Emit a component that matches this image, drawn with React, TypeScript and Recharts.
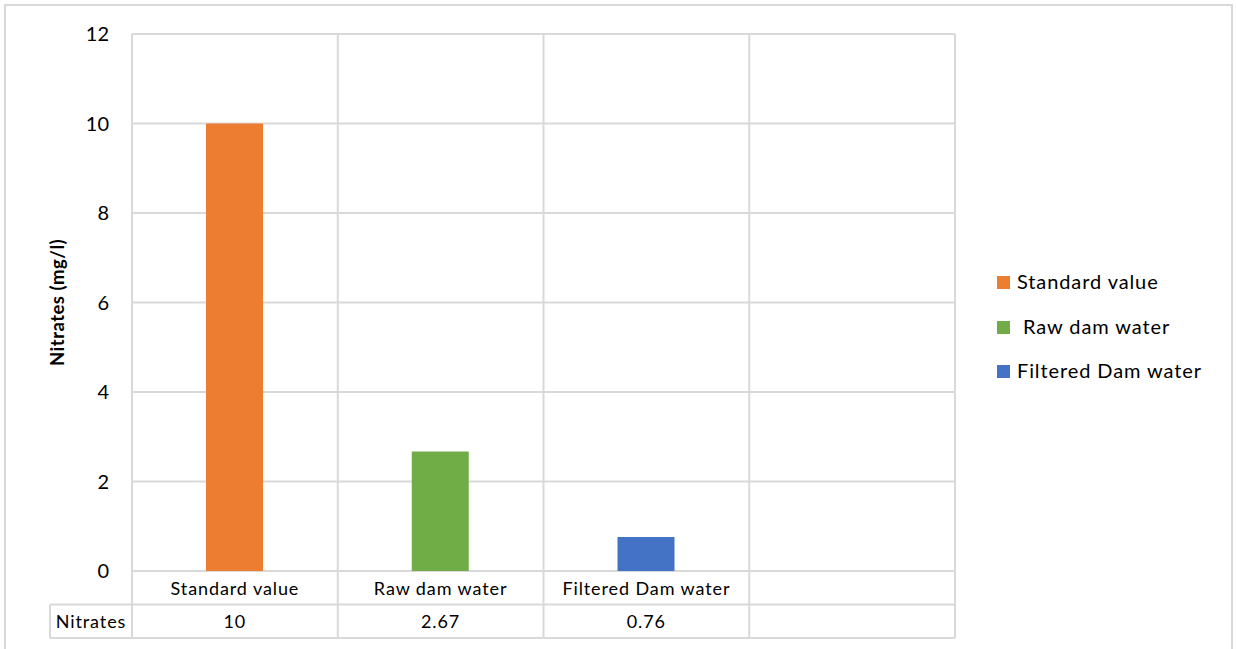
import React from "react";
import {
  BarChart,
  Bar,
  Cell,
  XAxis,
  YAxis,
  CartesianGrid,
  Label,
} from "recharts";

const categories = ["Standard value", "Raw dam water", "Filtered Dam water", ""];
const nitrates: (number | null)[] = [10, 2.67, 0.76, null];
const seriesName = "Nitrates";
const yTicks = [0, 2, 4, 6, 8, 10, 12];
const legendNames = ["Standard value", " Raw dam water", "Filtered Dam water"];

const COLORS = ["#ED7D31", "#70AD47", "#4472C4"];
const GRID = "#d9d9d9";
const FONT = "Lato, 'Open Sans', sans-serif";

const W = 1236;
const H = 649;
const PLOT_LEFT = 132;
const PLOT_RIGHT = 955;
const PLOT_TOP = 34;
const PLOT_BOTTOM = 571;
const ROW_H = 33.5;
const HEADER_LEFT = 50;

const data = categories.map((name, i) => ({ name, value: nitrates[i] }));
const band = (PLOT_RIGHT - PLOT_LEFT) / categories.length;

const cellText = {
  textAnchor: "middle" as const,
  dominantBaseline: "central" as const,
  fontSize: 18,
  letterSpacing: 0.9,
  fill: "#000",
  fontFamily: FONT,
};

// draws the data table under the plot: category row, value row and cell borders
const TableTick = (props: any) => {
  const { x, y, payload, index } = props;
  const left = x - band / 2;
  const right = x + band / 2;
  const row1 = y + ROW_H;
  const row2 = y + ROW_H * 2;
  const value = nitrates[index];
  return (
    <g>
      {index === 0 && (
        <g>
          <line x1={left} x2={left} y1={PLOT_TOP} y2={row2} stroke={GRID} strokeWidth={2} />
          <line x1={HEADER_LEFT} x2={left} y1={row1} y2={row1} stroke={GRID} strokeWidth={2} />
          <line x1={HEADER_LEFT} x2={left} y1={row2} y2={row2} stroke={GRID} strokeWidth={2} />
          <line x1={HEADER_LEFT} x2={HEADER_LEFT} y1={row1} y2={row2} stroke={GRID} strokeWidth={2} />
          <text x={(HEADER_LEFT + left) / 2} y={row1 + ROW_H / 2} {...cellText}>
            {seriesName}
          </text>
        </g>
      )}
      <line x1={right} x2={right} y1={PLOT_TOP} y2={row2} stroke={GRID} strokeWidth={2} />
      <line x1={left} x2={right} y1={row1} y2={row1} stroke={GRID} strokeWidth={2} />
      <line x1={left} x2={right} y1={row2} y2={row2} stroke={GRID} strokeWidth={2} />
      <text x={x} y={y + ROW_H / 2} {...cellText}>
        {payload.value}
      </text>
      {value !== null && (
        <text x={x} y={row1 + ROW_H / 2} {...cellText}>
          {value}
        </text>
      )}
    </g>
  );
};

// rotated, bold axis title centred on the plot height
const AxisTitle = () => {
  const cx = 57;
  const cy = (PLOT_TOP + PLOT_BOTTOM) / 2;
  return (
    <text
      x={cx}
      y={cy}
      transform={`rotate(-90 ${cx} ${cy})`}
      textAnchor="middle"
      dominantBaseline="central"
      fontSize={18.5}
      letterSpacing={0.5}
      fontWeight="bold"
      fill="#000"
      fontFamily={FONT}
    >
      Nitrates (mg/l)
    </text>
  );
};

export default function App() {
  return (
    <div
      style={{
        position: "absolute",
        left: 0,
        top: 0,
        width: W,
        height: H,
        background: "#fff",
        overflow: "hidden",
        fontFamily: FONT,
      }}
    >
      <div
        style={{
          position: "absolute",
          left: 4,
          top: 4,
          width: 1225,
          height: 680,
          border: `2px solid ${GRID}`,
        }}
      />
      <BarChart
        width={W}
        height={H}
        data={data}
        margin={{
          top: PLOT_TOP,
          right: W - PLOT_RIGHT,
          left: PLOT_LEFT - 60,
          bottom: H - PLOT_BOTTOM - 70,
        }}
      >
        <CartesianGrid vertical={false} stroke={GRID} strokeWidth={2} />
        <XAxis
          dataKey="name"
          axisLine={false}
          tickLine={false}
          tickSize={0}
          tickMargin={0}
          height={70}
          interval={0}
          tick={<TableTick />}
        />
        <YAxis
          width={60}
          domain={[0, 12]}
          ticks={yTicks}
          axisLine={false}
          tickLine={false}
          tickSize={0}
          tickMargin={23}
          tick={{ fontSize: 20, fill: "#000", fontFamily: FONT }}
        >
          <Label content={() => <AxisTitle />} />
        </YAxis>
        <Bar dataKey="value" barSize={57} isAnimationActive={false}>
          {data.map((_, i) => (
            <Cell key={`cell-${i}`} fill={COLORS[i % COLORS.length]} />
          ))}
        </Bar>
      </BarChart>
      <div style={{ position: "absolute", left: 997, top: 266 }}>
        {legendNames.map((name, i) => (
          <div
            key={name}
            style={{
              display: "flex",
              alignItems: "center",
              height: 30,
              marginBottom: i < legendNames.length - 1 ? 14.5 : 0,
              fontSize: 20,
              letterSpacing: 0.9,
              color: "#000",
              whiteSpace: "pre",
            }}
          >
            <span
              style={{
                width: 13,
                height: 13,
                background: COLORS[i],
                marginRight: 7,
                marginTop: 3,
                flexShrink: 0,
              }}
            />
            {name}
          </div>
        ))}
      </div>
    </div>
  );
}
